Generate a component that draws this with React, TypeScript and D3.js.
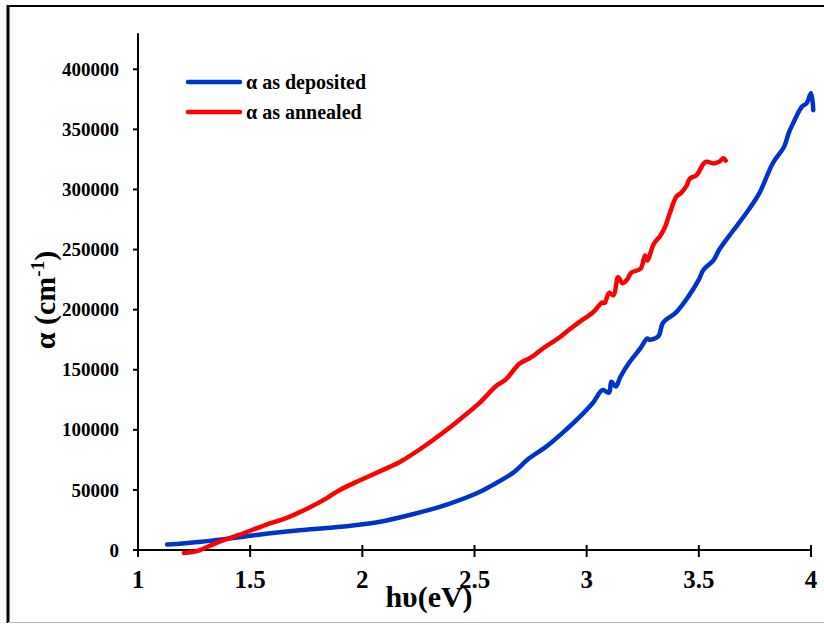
import React from "react";
import * as d3 from "d3";

const depositedX = [1.13, 1.27, 1.45, 1.57, 1.72, 1.94, 2.08, 2.22, 2.38, 2.52, 2.58, 2.67, 2.745, 2.82, 2.89, 2.97, 3.03, 3.07, 3.10, 3.11, 3.13, 3.15, 3.19, 3.24, 3.27, 3.28, 3.32, 3.34, 3.40, 3.45, 3.50, 3.52, 3.565, 3.59, 3.65, 3.71, 3.77, 3.83, 3.88, 3.90, 3.92, 3.96, 3.98, 4.00, 4.01];
const depositedY = [4500, 6700, 10500, 13500, 16500, 20000, 23500, 29500, 38000, 48000, 54000, 64000, 76500, 86000, 97000, 111000, 123000, 133000, 131000, 140000, 136000, 144000, 156000, 168000, 176000, 175000, 178000, 189000, 198000, 210000, 225000, 233000, 241000, 249600, 265000, 280000, 297000, 322000, 335500, 346700, 355000, 369000, 371600, 380000, 366000];

const annealedX = [1.205, 1.27, 1.35, 1.45, 1.57, 1.66, 1.76, 1.84, 1.90, 1.99, 2.09, 2.165, 2.25, 2.39, 2.45, 2.52, 2.60, 2.64, 2.70, 2.75, 2.80, 2.88, 2.92, 2.97, 3.03, 3.07, 3.08, 3.10, 3.12, 3.14, 3.16, 3.18, 3.20, 3.24, 3.26, 3.27, 3.30, 3.33, 3.35, 3.37, 3.40, 3.42, 3.445, 3.46, 3.49, 3.53, 3.565, 3.59, 3.61, 3.62];
const annealedY = [-2500, -500, 6000, 12500, 21000, 26500, 35000, 43000, 50000, 58000, 66500, 73000, 83000, 102000, 111000, 122000, 137000, 142000, 155000, 160000, 167000, 177000, 183000, 190000, 198000, 206000, 205500, 214000, 212000, 227000, 222000, 225000, 231000, 234000, 245000, 241000, 255000, 262000, 269000, 280000, 294000, 297000, 303000, 309000, 312000, 323000, 321700, 323000, 326000, 324000];

const xTicks = [1, 1.5, 2, 2.5, 3, 3.5, 4];
const yTicks = [0, 50000, 100000, 150000, 200000, 250000, 300000, 350000, 400000];
const seriesNames = ["α as deposited", "α as annealed"];
const seriesColors = ["#0033CC", "#FF0000"];

export default function App() {
  const x = d3.scaleLinear().domain([1, 4]).range([138, 811]);
  const y = d3.scaleLinear().domain([0, 400000]).range([550, 69.3]);
  const yTop = y(430000);
  const line = d3
    .line<[number, number]>()
    .x((d) => x(d[0]))
    .y((d) => y(d[1]))
    .curve(d3.curveCatmullRom.alpha(0.5));
  const dep: [number, number][] = depositedX.map((v, i) => [v, depositedY[i]]);
  const ann: [number, number][] = annealedX.map((v, i) => [v, annealedY[i]]);
  const font = "Liberation Serif, Times New Roman, DejaVu Serif, serif";

  return (
    <svg
      width={824}
      height={625}
      style={{ position: "absolute", left: 0, top: 0, background: "#fff", fontFamily: font, fontWeight: "bold" }}
    >
      <rect x={0} y={0} width={824} height={625} fill="#fff" />
      {/* outer frame */}
      <line x1={8} y1={6} x2={824} y2={6} stroke="#000" strokeWidth={2} />
      <line x1={8} y1={5} x2={8} y2={623} stroke="#000" strokeWidth={3} />
      <line x1={8} y1={622.5} x2={824} y2={622.5} stroke="#bbb" strokeWidth={1} />

      {/* y axis */}
      <line x1={138} y1={yTop} x2={138} y2={557} stroke="#000" strokeWidth={2} />
      {yTicks.map((t) => (
        <g key={t}>
          <line x1={133} y1={y(t)} x2={138} y2={y(t)} stroke="#000" strokeWidth={2} />
          <text x={119} y={y(t)} dy="0.35em" textAnchor="end" fontSize={19} style={{ fontFamily: font }}>
            {t}
          </text>
        </g>
      ))}

      {/* x axis */}
      <line x1={138} y1={550} x2={812} y2={550} stroke="#000" strokeWidth={2} />
      {xTicks.map((t) => (
        <g key={t}>
          <line x1={x(t)} y1={545} x2={x(t)} y2={557} stroke="#000" strokeWidth={2} />
          <text x={x(t)} y={588} textAnchor="middle" fontSize={25} style={{ fontFamily: font }}>
            {t}
          </text>
        </g>
      ))}

      {/* series */}
      <path d={line(dep) || ""} fill="none" stroke={seriesColors[0]} strokeWidth={4.5} strokeLinejoin="round" strokeLinecap="round" />
      <path d={line(ann) || ""} fill="none" stroke={seriesColors[1]} strokeWidth={4.5} strokeLinejoin="round" strokeLinecap="round" />

      {/* axis titles */}
      <text x={429} y={607} textAnchor="middle" fontSize={30} style={{ fontFamily: font }}>
        hυ(eV)
      </text>
      <text transform="translate(55,300) rotate(-90)" textAnchor="middle" fontSize={30} style={{ fontFamily: font }}>
        α (cm<tspan fontSize={19} dy={-11}>-1</tspan>
        <tspan dy={11}>)</tspan>
      </text>

      {/* legend */}
      {seriesNames.map((n, i) => (
        <g key={n}>
          <line x1={188} y1={82 + i * 30} x2={240} y2={82 + i * 30} stroke={seriesColors[i]} strokeWidth={4.5} strokeLinecap="round" />
          <text x={246} y={82 + i * 30} dy="0.35em" fontSize={20} style={{ fontFamily: font }}>
            {n}
          </text>
        </g>
      ))}
    </svg>
  );
}
